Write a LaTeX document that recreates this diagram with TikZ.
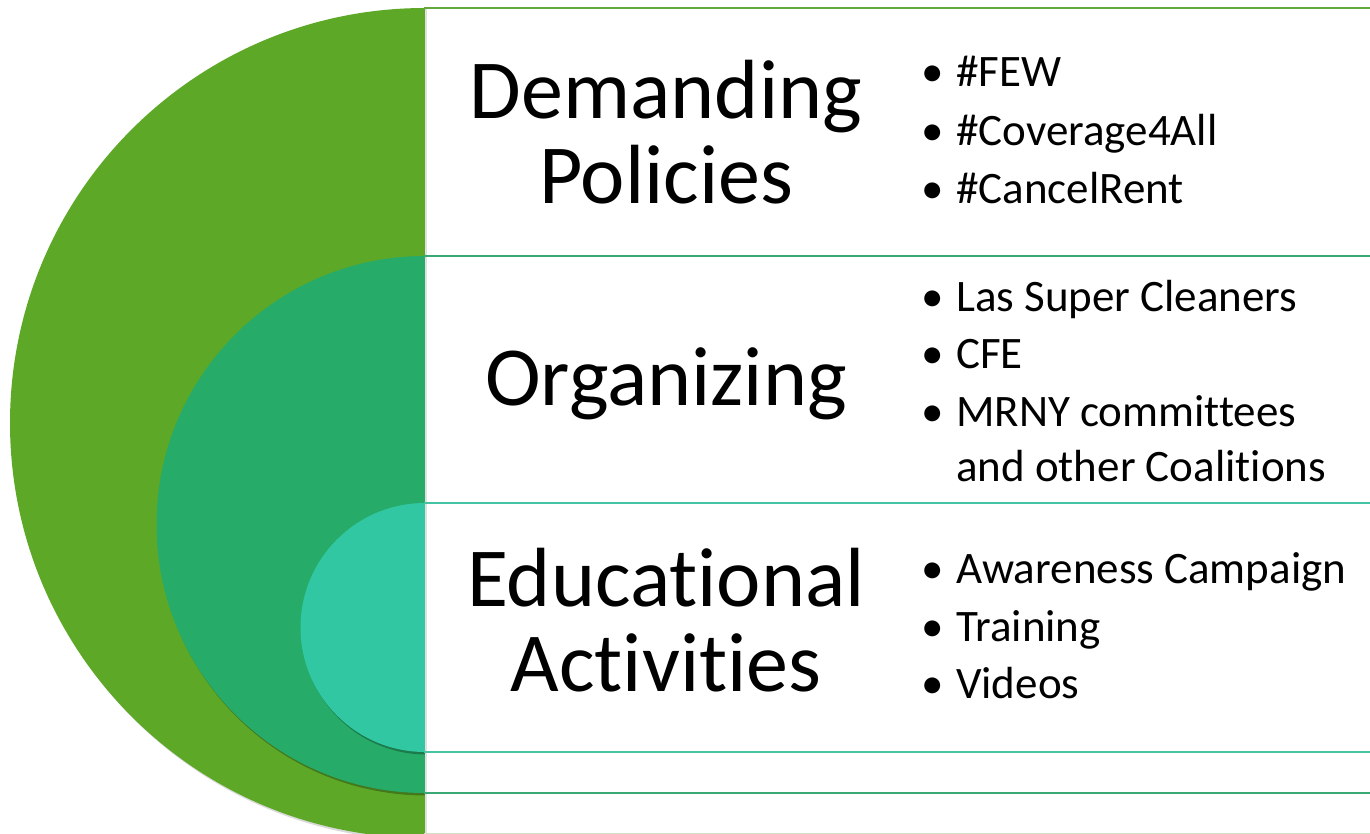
\documentclass[tikz,border=0pt]{standalone}
\usepackage{fontspec}
\setmainfont[Ligatures={NoCommon}]{Carlito}
\definecolor{gOuter}{HTML}{5DA927}
\definecolor{gMid}{HTML}{26AB69}
\definecolor{gIn}{HTML}{31C7A2}
\definecolor{lOuter}{HTML}{62A83B}
\definecolor{lMid}{HTML}{3AA875}
\definecolor{lIn}{HTML}{45C4A4}
\newcommand{\bul}{\makebox[35pt][l]{\textbullet}}
\tikzset{
  bigtxt/.style={anchor=base, inner sep=0pt, font=\fontsize{84}{85}\selectfont},
  bultxt/.style={anchor=base west, inner sep=0pt, font=\fontsize{45}{55}\selectfont},
  shadowdisc/.style={fill=black, opacity=0.28},
  sepline/.style={line width=2.8pt}
}
\begin{document}
\begin{tikzpicture}[x=1pt,y=-1pt]
\useasboundingbox (0,0) rectangle (1370,834);
\fill[white] (0,0) rectangle (1370,834);
% discs (left halves)
\begin{scope}
\clip (0,0) rectangle (425,834);
\fill[black, opacity=0.15] (427,425.5) circle[radius=415pt];
\fill[gOuter] (425,423) circle[radius=415pt];
\fill[shadowdisc] (426.5,527) circle[radius=268.5pt];
\fill[gMid] (425,524.5) circle[radius=268.5pt];
\fill[shadowdisc] (426.5,630) circle[radius=124.5pt];
\fill[gIn] (425,627.5) circle[radius=124.5pt];
\end{scope}
% panels
\fill[white] (425,8) rectangle (1372,836);
\fill[black!12] (425,8) rectangle (427,836);
\draw[sepline, lOuter] (424,8) -- (1372,8);
\draw[sepline, lMid] (424,256) -- (1372,256);
\draw[sepline, lIn] (424,503) -- (1372,503);
\draw[sepline, lIn] (424,752) -- (1372,752);
\draw[sepline, lMid] (424,793) -- (1372,793);
\draw[line width=1pt, lOuter!30] (424,833.5) -- (1372,833.5);
% titles
\node[bigtxt] (dp) at (666,119) {\begin{tabular}[t]{@{}c@{}}Demanding\\Policies\end{tabular}};
\node[bigtxt] (org) at (666,405) {Organizing};
\node[bigtxt] (edu) at (666,606) {\begin{tabular}[t]{@{}c@{}}Educational\\Activities\end{tabular}};
% bullets
\node[bultxt] (dpl) at (921,87) {\begin{tabular}[t]{@{}l@{}}\bul\#FEW\\[3.5pt]\bul\#Coverage4All\\[3.5pt]\bul\#CancelRent\end{tabular}};
\node[bultxt] (orgl) at (921,311) {\begin{tabular}[t]{@{}l@{}}\bul Las Super Cleaners\\[2.5pt]\bul CFE\\[3pt]\bul MRNY committees\\\hspace{35pt}and other Coalitions\end{tabular}};
\node[bultxt] (edul) at (921,583) {\begin{tabular}[t]{@{}l@{}}\bul Awareness Campaign\\[3pt]\bul Training\\[2.5pt]\bul Videos\end{tabular}};
\end{tikzpicture}
\end{document}
